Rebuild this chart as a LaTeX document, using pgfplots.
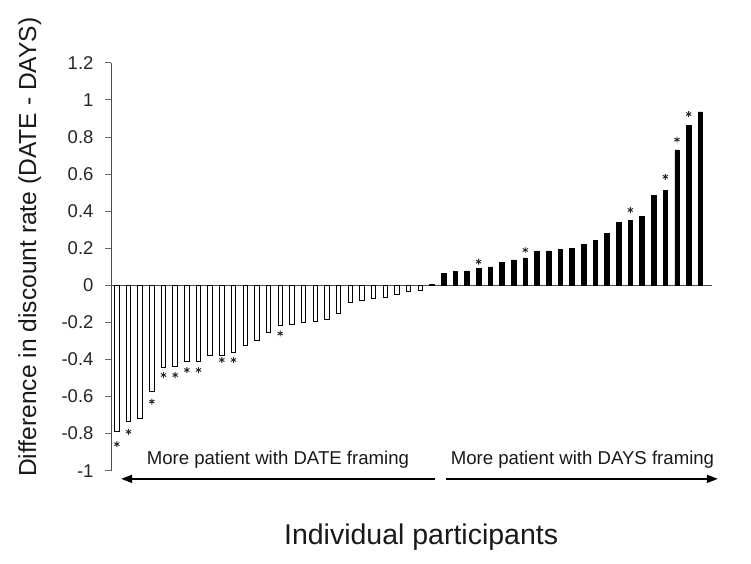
\documentclass[border=0pt]{standalone}
\usepackage{fontspec}
\setmainfont{Liberation Sans}
\usepackage{pgfplots}
\pgfplotsset{compat=1.18}
\usetikzlibrary{arrows.meta}
\begin{document}
\begin{tikzpicture}
\useasboundingbox (0,0) rectangle (751pt,563pt);
\begin{axis}[
  at={(111pt,92.3pt)}, anchor=south west,
  scale only axis, width=601pt, height=408pt,
  xmin=-0.5, xmax=51, ymin=-1, ymax=1.2,
  axis y line*=left, axis x line*=middle,
  axis line style={line width=0.8pt, color=black!70},
  xtick=\empty,
  ytick={-1,-0.8,-0.6,-0.4,-0.2,0,0.2,0.4,0.6,0.8,1,1.2},
  yticklabels={-1,-0.8,-0.6,-0.4,-0.2,0,0.2,0.4,0.6,0.8,1,1.2},
  tick align=outside, major tick length=6pt,
  tick style={line width=0.6pt, color=black!60},
  /pgf/number format/assume math mode=true,
  yticklabel style={font=\fontsize{18.5}{18.5}\selectfont, text=black!85, xshift=-8pt},
  ylabel={Difference in discount rate (DATE - DAYS)},
  ylabel style={font=\fontsize{24.6}{24.6}\selectfont, text=black!90, at={(axis description cs:-0.135,0.548)}, anchor=center},
  xlabel={Individual participants},
  xlabel style={font=\fontsize{28.5}{28.5}\selectfont, text=black!90, at={(axis description cs:0.516,-0.182)}, anchor=base},
  clip=false,
]
\addplot[ybar, bar shift=0pt, bar width=4.5pt, draw=black, fill=white, line width=0.9pt] coordinates {
(0,-0.79) (1,-0.737) (2,-0.72) (3,-0.57) (4,-0.444) (5,-0.439) (6,-0.412) (7,-0.412)
(8,-0.381) (9,-0.376) (10,-0.362) (11,-0.322) (12,-0.297) (13,-0.252) (14,-0.216)
(15,-0.21) (16,-0.20) (17,-0.196) (18,-0.187) (19,-0.153) (20,-0.092) (21,-0.081)
(22,-0.072) (23,-0.067) (24,-0.052) (25,-0.035) (26,-0.027)
};
\addplot[ybar, bar shift=0pt, bar width=4.5pt, draw=black, fill=black, line width=0.5pt] coordinates {
(27,0.004) (28,0.062) (29,0.075) (30,0.077) (31,0.092) (32,0.099) (33,0.124) (34,0.137)
(35,0.148) (36,0.186) (37,0.186) (38,0.195) (39,0.200) (40,0.221) (41,0.241)
(42,0.280) (43,0.338) (44,0.348) (45,0.372) (46,0.485) (47,0.512) (48,0.730)
(49,0.863) (50,0.935)
};
\addplot[only marks, mark=asterisk, mark size=3pt, mark options={line width=0.9pt, black!85}] coordinates {
(0,-0.857) (1,-0.79) (3,-0.627) (4,-0.484) (5,-0.484) (6,-0.457) (7,-0.457)
(9,-0.403) (10,-0.403) (14,-0.26)
(31,0.127) (35,0.19) (44,0.406) (47,0.585) (48,0.785) (49,0.923)
};
\draw[line width=1.6pt, -{Triangle[length=11pt,width=8pt]}] (axis cs:27.27,-1.044) -- (axis cs:0.37,-1.044);
\draw[line width=1.6pt, -{Triangle[length=11pt,width=8pt]}] (axis cs:28.2,-1.044) -- (axis cs:51.5,-1.044);
\node[anchor=base, font=\fontsize{18.6}{18.6}\selectfont, text=black!90] at (axis cs:13.8,-0.968) {More patient with DATE framing};
\node[anchor=base, font=\fontsize{18.6}{18.6}\selectfont, text=black!90] at (axis cs:39.9,-0.968) {More patient with DAYS framing};
\end{axis}
\end{tikzpicture}
\end{document}
